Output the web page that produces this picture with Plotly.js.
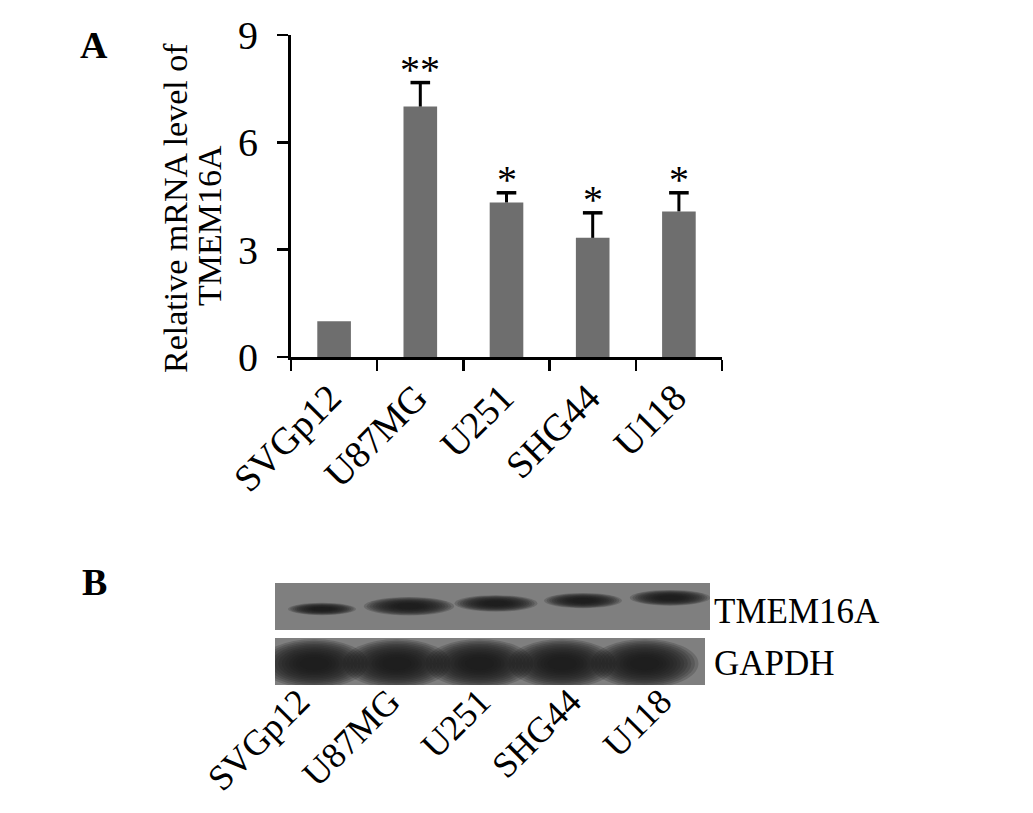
<!DOCTYPE html>
<html>
<head>
<meta charset="utf-8">
<script src="https://cdn.plot.ly/plotly-3.0.1.min.js"></script>
<style>
body { margin: 0; background: #fff; }
#chart { width: 1033px; height: 813px; }
</style>
</head>
<body>
<div id="chart"></div>
<script>
// panel A data
var cellLines = ['SVGp12', 'U87MG', 'U251', 'SHG44', 'U118'];
var mrnaLevel = [1.0, 7.0, 4.32, 3.33, 4.07];
var mrnaError = [0, 0.67, 0.27, 0.70, 0.52];
var significance = ['', '**', '*', '*', '*'];
var yTicks = [0, 3, 6, 9];

// panel B: relative band density read from the blot
var tmemBand = [0.55, 1.0, 0.85, 0.75, 0.8];
var gapdhBand = [1, 1, 1, 1, 1];
var blotRows = ['TMEM16A', 'GAPDH'];

var W = 1033, H = 813;
var serif = 'Liberation Serif, Times New Roman, serif';

function px(x) { return x / W; }
function py(y) { return 1 - y / H; }

var barTrace = {
    x: cellLines,
    y: mrnaLevel,
    type: 'bar',
    width: 0.39,
    marker: { color: 'rgb(110, 110, 110)' },
    hoverinfo: 'skip'
};

// one-sided error bars: stem + top cap only
var stemX = [], stemY = [], capX = [], capY = [];
cellLines.forEach(function (c, i) {
    if (!mrnaError[i]) return;
    stemX.push(c, c, null);
    stemY.push(mrnaLevel[i], mrnaLevel[i] + mrnaError[i], null);
    capX.push(c);
    capY.push(mrnaLevel[i] + mrnaError[i]);
});
var stemTrace = {
    x: stemX, y: stemY, mode: 'lines',
    line: { color: '#000', width: 3 },
    hoverinfo: 'skip'
};
var capTrace = {
    x: capX, y: capY, mode: 'markers',
    marker: { symbol: 'line-ew', size: 14, line: { color: '#000', width: 3.5 } },
    hoverinfo: 'skip'
};

// invisible trace so the blot axes exist
var laneIdx = cellLines.map(function (d, i) { return i; });
var blotTrace = {
    x: laneIdx,
    y: laneIdx.map(function () { return 1; }),
    xaxis: 'x2',
    yaxis: 'y2',
    mode: 'markers',
    marker: { opacity: 0 },
    hoverinfo: 'skip'
};

// blot strips and blurred bands
var shapes = [
    { type: 'rect', xref: 'x2 domain', yref: 'y2', x0: 0, x1: 1, y0: 1.08, y1: 2,
      fillcolor: '#7f7f7f', line: { width: 0 }, layer: 'below' },
    { type: 'rect', xref: 'x2 domain', yref: 'y2', x0: 0, x1: 0.9885, y0: 0, y1: 0.92,
      fillcolor: '#7f7f7f', line: { width: 0 }, layer: 'below' }
];

var nBlur = 12;
function addBand(cx, cy, w, h) {
    for (var k = 0; k < nBlur; k++) {
        var s = 1.3 - k * (0.95 / (nBlur - 1));
        shapes.push({
            type: 'circle', xref: 'x2', yref: 'y2',
            x0: cx - w * s / 2, x1: cx + w * s / 2,
            y0: cy - h * s / 2, y1: cy + h * s / 2,
            fillcolor: '#1a1a1a', opacity: 0.2, line: { width: 0 }
        });
    }
}

tmemBand.forEach(function (v, i) {
    addBand(i, 1.49 + 0.055 * i, 0.36 + 0.44 * v, 0.07 + 0.21 * v);
});
gapdhBand.forEach(function (v, i) {
    addBand(-0.09 + 0.95 * i, 0.42, 0.95 * v, 0.74 * v);
});

function label(text, x, y, size, extra) {
    var a = {
        text: text, xref: 'paper', yref: 'paper', x: x, y: y,
        xanchor: 'center', yanchor: 'middle', showarrow: false,
        font: { family: serif, size: size, color: '#000' }
    };
    for (var k in extra) a[k] = extra[k];
    return a;
}

var annotations = [
    label('<b>A</b>', px(94), py(45), 38),
    label('<b>B</b>', px(94), py(582), 38),
    label('Relative mRNA level of', px(176), py(208), 34, { textangle: -90 }),
    label('TMEM16A', px(209), py(226), 34, { textangle: -90 }),
    label(blotRows[0], px(712), 1.45, 35, { yref: 'y2', xanchor: 'left' }),
    label(blotRows[1], px(712), 0.43, 35, { yref: 'y2', xanchor: 'left' })
];

cellLines.forEach(function (c, i) {
    if (!significance[i]) return;
    annotations.push({
        text: significance[i], x: c, y: mrnaLevel[i] + mrnaError[i],
        xref: 'x', yref: 'y', yanchor: 'bottom', yshift: -11,
        showarrow: false, font: { family: serif, size: 40, color: '#000' }
    });
});

var layout = {
    width: W,
    height: H,
    margin: { l: 0, r: 0, t: 0, b: 0 },
    paper_bgcolor: '#fff',
    plot_bgcolor: 'rgba(0,0,0,0)',
    showlegend: false,
    font: { family: serif, color: '#000' },
    xaxis: {
        domain: [px(291), px(722)],
        type: 'category',
        range: [-0.5, 4.5],
        tickson: 'boundaries',
        ticks: 'outside',
        ticklen: 11,
        tickwidth: 2.5,
        tickcolor: '#000',
        showline: true,
        linewidth: 3,
        linecolor: '#000',
        showgrid: false,
        tickangle: -45,
        ticklabelshift: -4,
        tickfont: { family: serif, size: 38, color: '#000' },
        fixedrange: true
    },
    yaxis: {
        domain: [py(357), py(35)],
        range: [0, 9],
        tickvals: yTicks,
        ticks: 'outside',
        ticklen: 11,
        tickwidth: 2.5,
        tickcolor: '#000',
        showline: true,
        linewidth: 3,
        linecolor: '#000',
        showgrid: false,
        zeroline: false,
        ticklabelstandoff: 11,
        tickfont: { family: serif, size: 40, color: '#000' },
        fixedrange: true
    },
    xaxis2: {
        anchor: 'free',
        position: py(672),
        domain: [px(275), px(710)],
        range: [-0.54, 4.46],
        tickvals: laneIdx.map(function (i) { return i * 1.04; }),
        ticktext: cellLines,
        ticks: '',
        showline: false,
        showgrid: false,
        zeroline: false,
        tickangle: -45,
        ticklabelshift: -23,
        tickfont: { family: serif, size: 36, color: '#000' },
        fixedrange: true
    },
    yaxis2: {
        anchor: 'x2',
        domain: [py(685), py(583)],
        range: [0, 2],
        visible: false,
        fixedrange: true
    },
    shapes: shapes,
    annotations: annotations
};

Plotly.newPlot('chart', [barTrace, stemTrace, capTrace, blotTrace], layout, { displayModeBar: false, staticPlot: true });
</script>
</body>
</html>
